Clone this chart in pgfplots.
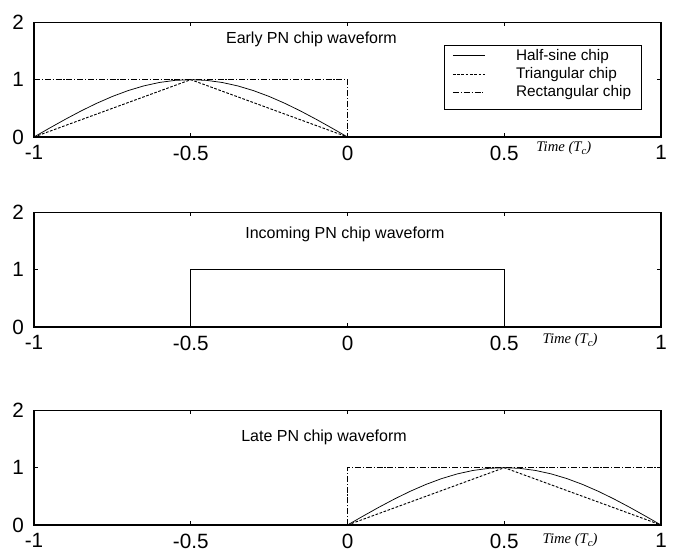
\documentclass[border=0pt]{standalone}
\usepackage{fontspec}
\setmainfont{Liberation Sans}
\newfontfamily\timesf{Liberation Serif}
\usepackage{pgfplots}
\pgfplotsset{compat=1.18}

% Half-sine chip over [-1,0] (early) and [0,1] (late)
\pgfplotstableread{
x y
-1.00 0.0000
-0.95 0.1564
-0.90 0.3090
-0.85 0.4540
-0.80 0.5878
-0.75 0.7071
-0.70 0.8090
-0.65 0.8910
-0.60 0.9511
-0.55 0.9877
-0.50 1.0000
-0.45 0.9877
-0.40 0.9511
-0.35 0.8910
-0.30 0.8090
-0.25 0.7071
-0.20 0.5878
-0.15 0.4540
-0.10 0.3090
-0.05 0.1564
 0.00 0.0000
}\earlysine
\pgfplotstableread{
x y
0.00 0.0000
0.05 0.1564
0.10 0.3090
0.15 0.4540
0.20 0.5878
0.25 0.7071
0.30 0.8090
0.35 0.8910
0.40 0.9511
0.45 0.9877
0.50 1.0000
0.55 0.9877
0.60 0.9511
0.65 0.8910
0.70 0.8090
0.75 0.7071
0.80 0.5878
0.85 0.4540
0.90 0.3090
0.95 0.1564
1.00 0.0000
}\latesine

\pgfplotsset{
  chip/.style={
    scale only axis,
    width=470.25pt, height=86pt,
    anchor=south west,
    xmin=-1, xmax=1, ymin=0, ymax=2,
    xtick={-1,-0.5,0,0.5,1},
    xticklabels={{-1},{-0.5},{0},{0.5},{1}},
    ytick={0,1,2},
    yticklabels={{0},{1},{2}},
    tick align=inside,
    major tick length=3pt,
    tick style={black, line width=0.6pt},
    axis line style={black, line width=1pt},
    tick label style={font=\fontsize{15.5}{17}\selectfont},
    xticklabel style={yshift=-3pt},
    yticklabel style={xshift=-4pt},
    clip=false,
  },
  sine/.style={black, line width=0.55pt},
  tri/.style={black, line width=0.7pt, dash pattern=on 2pt off 1.2pt},
  rect/.style={black, line width=0.7pt, dash pattern=on 4.5pt off 1.4pt on 0.8pt off 1.4pt},
}
\newcommand{\timelabel}{{\timesf\itshape\fontsize{11}{13}\selectfont Time (T\raisebox{-0.35ex}{\fontsize{8}{9}\selectfont c})}}

\begin{document}
\begin{tikzpicture}
\path[use as bounding box] (0,0) rectangle (505.5pt,414.75pt);

% Early PN chip waveform
\begin{axis}[chip, at={(25.5pt,312pt)},
  legend style={at={(rel axis cs:0.654,0.80)}, anchor=north west,
    draw=black, line width=0.6pt, font=\fontsize{11.5}{13}\selectfont,
    row sep=0pt, column sep=21pt, inner xsep=6pt, inner ysep=0.5pt},
  legend cell align=left,
  legend image code/.code={\draw[#1] (0pt,0pt) -- (24pt,0pt);},
]
\addplot[sine] table {\earlysine};
\addlegendentry{Half-sine chip}
\addplot[tri] coordinates {(-1,0) (-0.5,1) (0,0)};
\addlegendentry{Triangular chip}
\addplot[rect] coordinates {(-1,1) (0,1) (0,0)};
\addlegendentry{Rectangular chip}
\addlegendimage{empty legend}
\addlegendentry{}
\node[font=\fontsize{12}{14}\selectfont] at (axis cs:-0.115,1.70) {Early PN chip waveform};
\node at (axis cs:0.69,0) [yshift=-8.5pt] {\timelabel};
\end{axis}

% Incoming PN chip waveform
\begin{axis}[chip, at={(25.5pt,169.5pt)}]
\addplot[black, line width=0.6pt] coordinates {(-0.5,0) (-0.5,1) (0.5,1) (0.5,0)};
\node[font=\fontsize{12}{14}\selectfont] at (axis cs:-0.008,1.62) {Incoming PN chip waveform};
\node at (axis cs:0.71,0) [yshift=-10pt] {\timelabel};
\end{axis}

% Late PN chip waveform
\begin{axis}[chip, at={(25.5pt,21pt)}]
\addplot[sine] table {\latesine};
\addplot[tri] coordinates {(0,0) (0.5,1) (1,0)};
\addplot[rect] coordinates {(0,0) (0,1) (1,1)};
\node[font=\fontsize{12}{14}\selectfont] at (axis cs:-0.075,1.53) {Late PN chip waveform};
\node at (axis cs:0.71,0) [yshift=-11.5pt] {\timelabel};
\end{axis}
\end{tikzpicture}
\end{document}
